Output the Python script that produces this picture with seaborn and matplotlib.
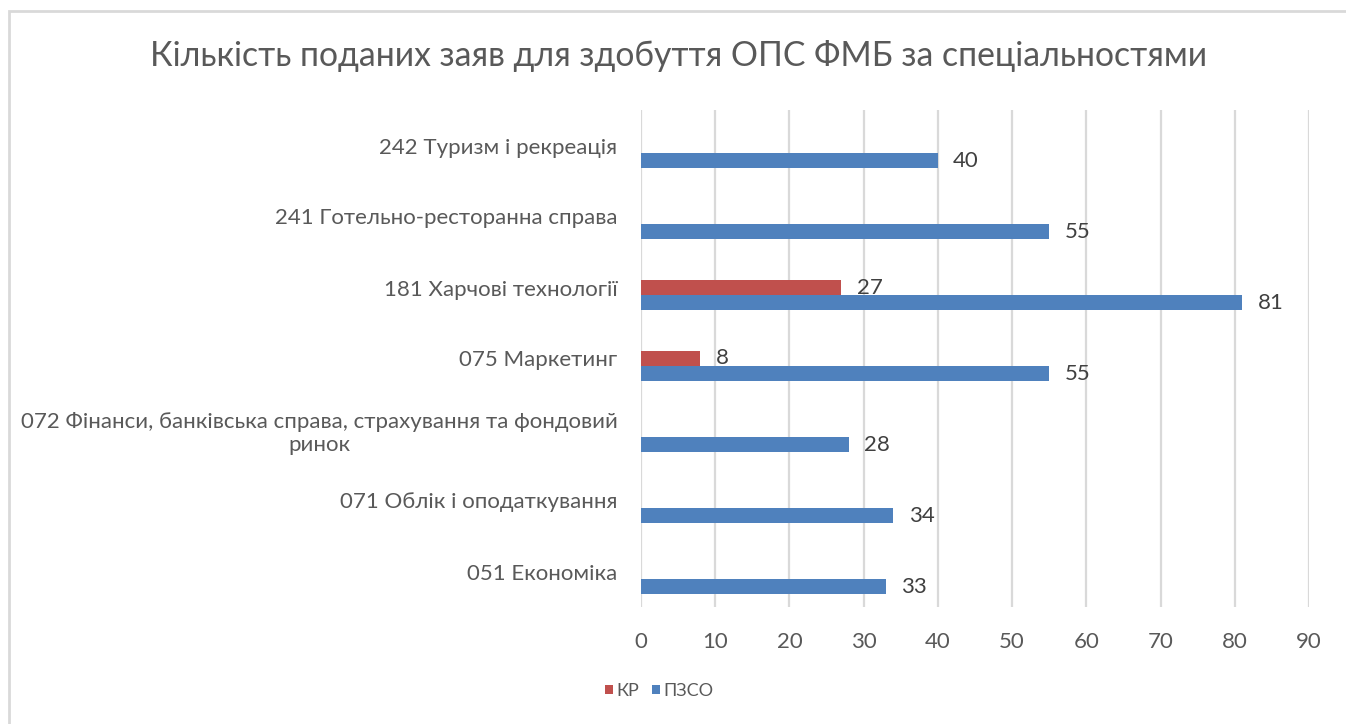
import numpy as np
import pandas as pd
import matplotlib
matplotlib.use("Agg")
import matplotlib.pyplot as plt
import seaborn as sns
from matplotlib.patches import Patch, Rectangle

categories = [
    "242 Туризм і рекреація",
    "241 Готельно-ресторанна справа",
    "181 Харчові технології",
    "075 Маркетинг",
    "072 Фінанси, банківська справа, страхування та фондовий\nринок",
    "071 Облік і оподаткування",
    "051 Економіка",
]
kr_values = [np.nan, np.nan, 27, 8, np.nan, np.nan, np.nan]
pzso_values = [40, 55, 81, 55, 28, 34, 33]
series_names = ["КР", "ПЗСО"]
x_ticks = [0, 10, 20, 30, 40, 50, 60, 70, 80, 90]
title = "Кількість поданих заяв для здобуття ОПС ФМБ за спеціальностями"

RED = "#C0504D"
BLUE = "#4F81BD"
GRAY_TXT = "#595959"
GRID = "#D9D9D9"

sns.set_theme(style="white")
plt.rcParams["font.family"] = ["Lato", "DejaVu Sans"]

df = pd.DataFrame({
    "cat": categories * 2,
    "series": [series_names[0]] * len(categories) + [series_names[1]] * len(categories),
    "value": kr_values + pzso_values,
})

W, H = 1346, 724
fig = plt.figure(figsize=(W / 100, H / 100), dpi=100)
fig.patch.set_facecolor("white")

# chart frame
fig.add_artist(Rectangle((9 / W, -0.05), 1.2, 1 - 11 / H + 0.05, transform=fig.transFigure,
                         fill=False, edgecolor=GRID, linewidth=2))

ax = fig.add_axes([641 / W, 1 - 607 / H, 668 / W, 497 / H])
hue_order = [" ", series_names[0], series_names[1]]
palette = {" ": "white", series_names[0]: RED, series_names[1]: BLUE}
sns.barplot(data=df, y="cat", x="value", hue="series", hue_order=hue_order,
            palette=palette, order=categories, orient="h", width=0.634,
            dodge=True, ax=ax, legend=False, saturation=1, edgecolor="none")

for cont in ax.containers:
    vals = cont.datavalues
    labels = ["" if np.isnan(v) else f"{int(v)}" for v in vals]
    ax.bar_label(cont, labels=labels, padding=11, fontsize=16, color="#404040")

ax.set_xlim(0, 90)
ax.set_ylim(6.5, -0.5)
ax.set_xticks(x_ticks)
ax.xaxis.grid(True, color=GRID, linewidth=1.6)
ax.set_axisbelow(True)
for s in ax.spines.values():
    s.set_visible(False)
ax.set_xlabel("")
ax.set_ylabel("")
ax.tick_params(axis="x", length=0, pad=18, labelsize=16, labelcolor=GRAY_TXT)
ax.tick_params(axis="y", length=0, pad=17, labelsize=16, labelcolor=GRAY_TXT)
for lbl in ax.get_yticklabels():
    lbl.set_multialignment("center")

fig.text(679 / W, 1 - 56 / H, title, ha="center", va="center", fontsize=24.3, color=GRAY_TXT)

handles = [Patch(facecolor=RED, edgecolor="none"), Patch(facecolor=BLUE, edgecolor="none")]
fig.legend(handles, series_names, loc="center", bbox_to_anchor=(659 / W, 1 - 691 / H),
           ncol=2, frameon=False, fontsize=13, labelcolor=GRAY_TXT,
           handlelength=0.45, handleheight=0.45, handletextpad=0.2, columnspacing=0.7)

fig.savefig("out.png", dpi=100, facecolor="white")
